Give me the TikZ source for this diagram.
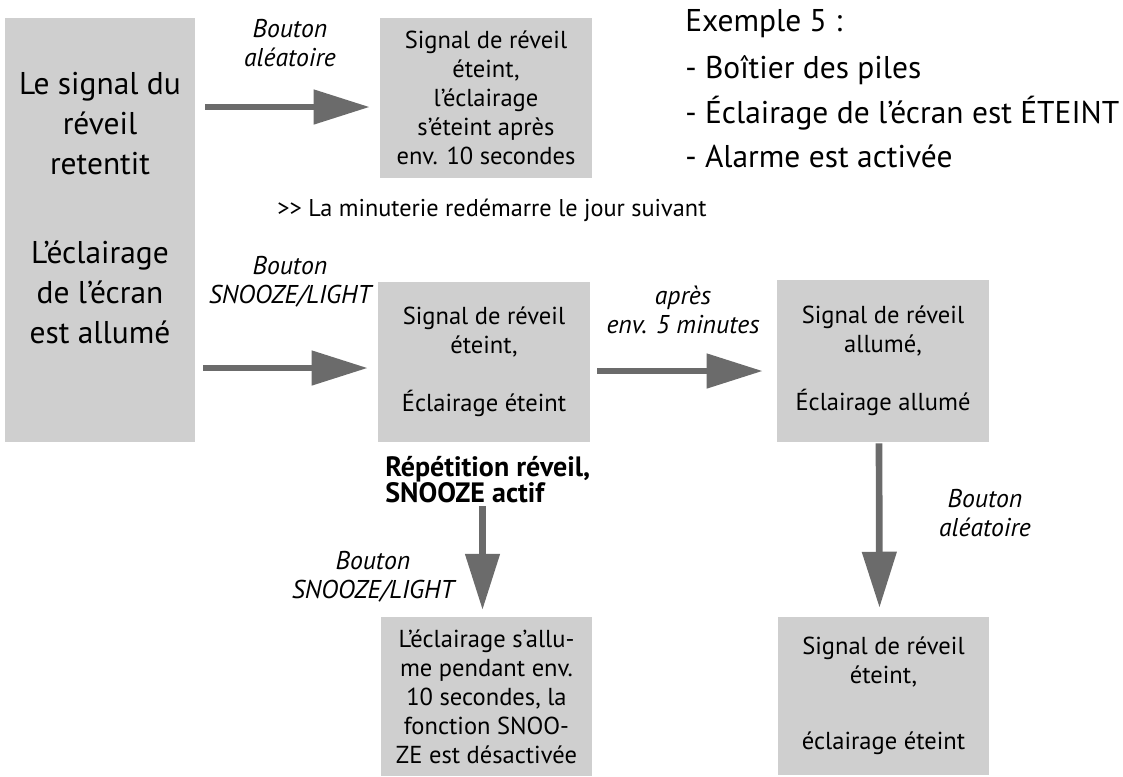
\documentclass[tikz,border=0pt]{standalone}
\usepackage{fontspec}
\setmainfont{PT Sans}
\usetikzlibrary{arrows.meta,calc}
\definecolor{boxgray}{HTML}{CFCFCF}
\definecolor{arrgray}{HTML}{6B6B6B}
\begin{document}
\begin{tikzpicture}[x=0.75pt,y=-0.75pt,
  box/.style={fill=boxgray, inner sep=0pt, align=center, minimum width=159pt, minimum height=120pt, font=\fontsize{18.4}{21.75}\selectfont},
  bigtxt/.style={font=\fontsize{23.6}{30}\selectfont, align=center, inner sep=0pt},
  extxt/.style={font=\fontsize{23.6}{30}\selectfont, anchor=west, inner sep=0pt},
  lbl/.style={font=\fontsize{19.3}{21.75}\selectfont\itshape, align=center, inner sep=0pt},
  arr/.style={draw=arrgray, line width=5pt, -{Triangle[length=42pt,width=25pt]}}
]
\useasboundingbox (0,0) rectangle (1123,776);

% boxes
\node[box, minimum width=142.5pt, minimum height=318pt] (start) at (100,230) {};
\node[bigtxt] (starttxt) at (100,208) {Le signal du\\réveil\\retentit\\[37pt]L’éclairage\\de l’écran\\est allumé};

\node[box] (b1) at (486,98) {Signal de réveil\\éteint,\\l’éclairage\\s’éteint après\\env. 10 secondes};
\node[box] (b2) at (484,362) {Signal de réveil\\éteint,\\[22pt]Éclairage éteint};
\node[box, minimum height=121.5pt] (b3) at (883,361) {Signal de réveil\\allumé,\\[22pt]Éclairage allumé};
\node[box, minimum width=158pt, minimum height=119pt] (b4) at (486.5,696.5) {L’éclairage s’allu-\\me pendant env.\\10 secondes, la\\fonction SNOO-\\ZE est désactivée};
\node[box, minimum width=158pt, minimum height=118.5pt] (b5) at (883.5,696) {Signal de réveil\\éteint,\\[28pt]éclairage éteint};

% free texts
\node[extxt] (ex0) at (685,24) {Exemple 5 :};
\node[extxt] (ex1) at (685,70) {- Boîtier des piles};
\node[extxt] (ex2) at (685,113) {- Éclairage de l’écran est ÉTEINT};
\node[extxt] (ex3) at (685,156) {- Alarme est activée};

\node[font=\fontsize{18.2}{20}\selectfont, anchor=west, inner sep=0pt] (minut) at (277,210) {{>}{>} La minuterie redémarre le jour suivant};

\node[font=\fontsize{21}{19.5}\selectfont\bfseries, align=left, anchor=west, inner sep=0pt] (rep) at (385,480) {Répétition réveil,\\SNOOZE actif};

% arrow labels
\node[lbl] (l1) at (290,43) {Bouton\\aléatoire};
\node[lbl] (l2) at (290,282) {Bouton\\SNOOZE/LIGHT};
\node[lbl] (l3) at (683,310) {après\\env. 5 minutes};
\node[lbl] (l4) at (373,577) {Bouton\\SNOOZE/LIGHT};
\node[lbl] (l5) at (985,513) {Bouton\\aléatoire};

% arrows
\draw[arr, shorten <=10pt*0.75, shorten >=10pt*0.75] ($(start.east|-b1.west)+(0,9)$) -- ($(b1.west)+(0,9)$);
\draw[arr, shorten <=8pt*0.75, shorten >=10pt*0.75] ($(start.east|-b2.west)+(0,6)$) -- ($(b2.west)+(0,6)$);
\draw[arr, shorten <=7pt*0.75, shorten >=14pt*0.75] ($(b2.east)+(0,9)$) -- ($(b3.west|-b2.east)+(0,9)$);
\draw[arr, shorten <=2pt, shorten >=7pt*0.75] ($(rep.south-|b4.north)+(-4,0)$) -- ($(b4.north)+(-4,0)$);
\draw[arr, shorten <=1pt*0.75, shorten >=9pt*0.75] ($(b3.south)+(-4,0)$) -- ($(b5.north)+(-4,0)$);
\end{tikzpicture}
\end{document}
